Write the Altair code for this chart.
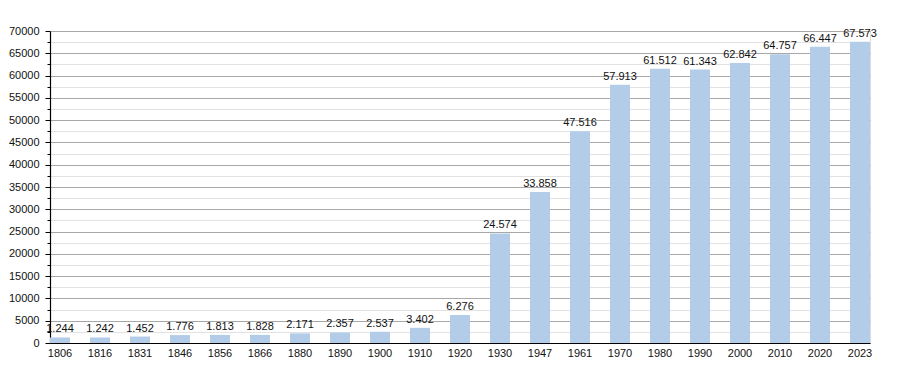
import altair as alt
import pandas as pd

years = ["1806", "1816", "1831", "1846", "1856", "1866", "1880", "1890", "1900", "1910",
         "1920", "1930", "1947", "1961", "1970", "1980", "1990", "2000", "2010", "2020", "2023"]
population = [1244, 1242, 1452, 1776, 1813, 1828, 2171, 2357, 2537, 3402,
              6276, 24574, 33858, 47516, 57913, 61512, 61343, 62842, 64757, 66447, 67573]
labels = ["1.244", "1.242", "1.452", "1.776", "1.813", "1.828", "2.171", "2.357", "2.537", "3.402",
          "6.276", "24.574", "33.858", "47.516", "57.913", "61.512", "61.343", "62.842", "64.757", "66.447", "67.573"]
y_ticks = list(range(0, 70001, 2500))

df = pd.DataFrame({"year": years, "pop": population, "label": labels})

FONT = "Liberation Sans"

x = alt.X("year:N", sort=None, title=None,
          scale=alt.Scale(paddingInner=0.5, paddingOuter=0),
          axis=alt.Axis(labelAngle=0, ticks=False, domainColor="#000", domainWidth=1.2,
                        labelFont=FONT, labelFontSize=11, labelColor="#111", labelPadding=4))
y = alt.Y("pop:Q", title=None,
          scale=alt.Scale(domain=[0, 70000], nice=False, zero=True),
          axis=alt.Axis(values=y_ticks,
                        labelExpr="datum.value % 5000 === 0 ? datum.value : ''",
                        labelOverlap=False,
                        labelFont=FONT, labelFontSize=11, labelColor="#111", labelPadding=6,
                        domainColor="#000", domainWidth=1.2,
                        tickColor="#000",
                        tickSize={"condition": {"test": "datum.value % 5000 === 0", "value": 5}, "value": 3},
                        grid=True,
                        gridColor={"condition": {"test": "datum.value % 5000 === 0", "value": "#a8a8a8"}, "value": "#e2e2e2"},
                        gridWidth=1))

bars = alt.Chart(df).mark_bar(color="#b3cde8").encode(x=x, y=y)
text = alt.Chart(df).mark_text(baseline="bottom", dy=-3, font=FONT, fontSize=11, color="#111").encode(
    x=x, y=y, text="label:N")

chart = alt.layer(bars, text).properties(
    width=820, height=312,
    autosize=alt.AutoSizeParams(type="none"),
    padding={"left": 42, "top": 23, "right": 22, "bottom": 22},
).configure_view(stroke=None).configure(background="#ffffff")

chart.save("out.html", embed_options={"renderer": "svg", "actions": False})
